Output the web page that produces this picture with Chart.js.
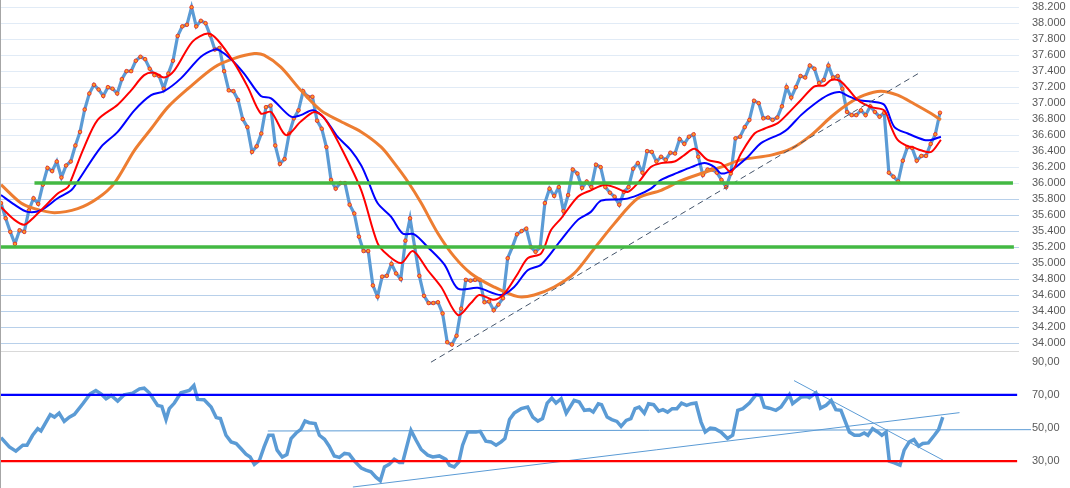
<!DOCTYPE html>
<html>
<head>
<meta charset="utf-8">
<script src="https://cdn.jsdelivr.net/npm/chart.js@4.4.1/dist/chart.umd.min.js"></script>
<style>
  html, body { margin: 0; padding: 0; background: #fff; }
  #wrap { position: relative; width: 1070px; height: 488px; overflow: hidden; }
  #edge { position: absolute; left: 0; top: 0; width: 1px; height: 488px; background: #a6a6a6; }
  #price { position: absolute; left: 0; top: 0; }
  #rsi { position: absolute; left: 0; top: 351px; }
</style>
</head>
<body>
<div id="wrap">
  <canvas id="rsi" width="1070" height="137"></canvas>
  <canvas id="price" width="1070" height="372"></canvas>
  <div id="edge"></div>
</div>
<script>
// closing prices, one per session (day index = position in the array)
const priceValues = [
  35.75, 35.56, 35.39, 35.24, 35.41, 35.39, 35.66, 35.81, 35.74, 35.98,
  36.19, 36.15, 36.27, 36.07, 36.22, 36.27, 36.47, 36.64, 36.92, 37.12,
  37.23, 37.17, 37.09, 37.20, 37.18, 37.12, 37.30, 37.40, 37.40, 37.53,
  37.58, 37.55, 37.43, 37.35, 37.34, 37.18, 37.37, 37.53, 37.84, 37.96,
  37.98, 38.20, 37.96, 38.03, 38.00, 37.85, 37.67, 37.69, 37.40, 37.16,
  37.15, 37.04, 36.80, 36.70, 36.39, 36.46, 36.62, 36.95, 36.97, 36.47,
  36.24, 36.30, 36.62, 36.81, 36.91, 37.15, 37.08, 37.08, 36.78, 36.68,
  36.45, 36.04, 35.93, 36.00, 36.00, 35.73, 35.62, 35.33, 35.15, 35.15,
  34.72, 34.58, 34.83, 34.84, 34.99, 34.87, 34.80, 35.28, 35.56, 35.20,
  34.84, 34.59, 34.50, 34.50, 34.51, 34.37, 34.01, 33.98, 34.09, 34.43,
  34.79, 34.78, 34.79, 34.79, 34.51, 34.52, 34.41, 34.48, 34.56, 35.06,
  35.20, 35.36, 35.40, 35.43, 35.20, 35.14, 35.20, 35.75, 35.93, 35.84,
  35.95, 35.65, 35.85, 36.17, 36.12, 35.94, 36.02, 35.95, 36.23, 36.20,
  35.95, 35.88, 35.83, 35.73, 35.89, 35.95, 36.18, 36.25, 36.13, 36.40,
  36.39, 36.27, 36.33, 36.29, 36.38, 36.37, 36.55, 36.49, 36.58, 36.61,
  36.33, 36.10, 36.17, 36.17, 36.13, 36.04, 35.95, 36.12, 36.56, 36.58,
  36.70, 36.79, 37.03, 37.00, 36.81, 36.82, 36.79, 36.82, 36.96, 37.20,
  37.07, 37.20, 37.34, 37.32, 37.47, 37.43, 37.25, 37.29, 37.47, 37.32,
  37.34, 37.18, 36.89, 36.85, 36.85, 36.91, 36.85, 36.96, 36.89, 36.83,
  36.88, 36.13, 36.08, 36.02, 36.28, 36.45, 36.44, 36.28, 36.34, 36.34,
  36.49, 36.61, 36.88
];

// moving averages (day index / value)
const fastIdx = [0, 2.9, 5.0, 7.2, 9.3, 12.2, 14.4, 15.1, 17.9, 20.8, 25.1, 28.0, 30.8, 33.0, 35.1, 37.3, 41.2, 44.5, 46.6, 50.2, 53.1, 55.9, 58.1, 61.3, 64.5, 67.4, 69.6, 73.1, 77.5, 81.0, 83.2, 86.1, 88.6, 91.8, 94.7, 98.3, 101.1, 102.9, 106.1, 108.3, 111.2, 113.3, 116.2, 118.3, 120.5, 124.1, 126.9, 129.8, 131.9, 134.8, 137.0, 139.8, 142.0, 144.9, 147.0, 149.2, 152.0, 154.9, 157.1, 159.2, 162.1, 164.2, 167.1, 169.3, 172.1, 175.0, 177.1, 178.6, 180.4, 182.2, 184.3, 187.2, 190.0, 191.5, 192.9, 195.1, 196.1, 197.9, 200.1, 202.2];
const fastVals = [35.70, 35.54, 35.48, 35.58, 35.70, 35.87, 35.95, 36.04, 36.45, 36.79, 36.98, 37.16, 37.35, 37.38, 37.32, 37.41, 37.77, 37.87, 37.79, 37.50, 37.20, 36.87, 36.89, 36.60, 36.77, 36.89, 36.81, 36.45, 35.91, 35.25, 35.10, 35.00, 35.15, 34.91, 34.70, 34.35, 34.50, 34.60, 34.54, 34.62, 34.87, 35.06, 35.12, 35.41, 35.56, 35.83, 35.91, 35.98, 35.95, 35.89, 36.00, 36.20, 36.25, 36.27, 36.35, 36.43, 36.29, 36.25, 36.14, 36.37, 36.62, 36.68, 36.75, 36.87, 37.04, 37.21, 37.22, 37.29, 37.28, 37.18, 37.04, 36.95, 36.91, 36.70, 36.54, 36.46, 36.45, 36.41, 36.39, 36.54];

const midIdx = [0, 2.9, 5.7, 8.6, 12.2, 15.1, 16.5, 21.5, 25.1, 28.7, 32.3, 35.1, 38.7, 43.0, 45.9, 47.0, 49.5, 52.3, 55.9, 58.1, 62.4, 64.5, 67.1, 69.6, 72.4, 75.3, 77.5, 78.9, 81.0, 83.9, 86.4, 88.9, 91.8, 95.4, 98.3, 102.6, 107.6, 110.4, 113.3, 116.2, 120.5, 124.1, 126.9, 129.1, 134.1, 137.0, 139.8, 142.0, 145.6, 148.5, 151.3, 153.5, 154.9, 157.1, 160.7, 163.5, 167.8, 169.3, 172.1, 175.0, 177.9, 180.4, 182.2, 184.3, 187.2, 190.0, 192.2, 195.1, 198.6, 200.1, 202.2];
const midVals = [35.85, 35.73, 35.64, 35.66, 35.81, 35.91, 36.02, 36.45, 36.64, 36.91, 37.10, 37.15, 37.31, 37.58, 37.67, 37.66, 37.55, 37.37, 37.09, 37.06, 36.83, 36.85, 36.91, 36.81, 36.58, 36.41, 36.22, 36.04, 35.75, 35.58, 35.37, 35.36, 35.20, 34.98, 34.68, 34.69, 34.60, 34.70, 34.91, 34.98, 35.29, 35.54, 35.64, 35.78, 35.80, 35.85, 35.93, 36.04, 36.13, 36.20, 36.25, 36.20, 36.12, 36.16, 36.33, 36.50, 36.62, 36.68, 36.85, 36.99, 37.10, 37.14, 37.09, 37.04, 37.02, 36.98, 36.70, 36.62, 36.54, 36.54, 36.58];

const slowIdx = [0, 4.3, 7.2, 11.5, 16.5, 20.8, 24.4, 28.7, 32.3, 35.9, 40.2, 45.9, 50.2, 54.5, 56.6, 60.2, 64.5, 68.8, 73.1, 77.5, 81.8, 84.6, 87.5, 90.4, 94.0, 97.5, 101.1, 106.1, 111.2, 114.7, 119.0, 123.3, 127.6, 131.9, 137.0, 142.0, 146.3, 150.6, 154.9, 159.2, 165.7, 170.0, 174.3, 178.6, 182.2, 185.7, 189.3, 192.9, 196.5, 200.1, 202.2];
const slowVals = [35.98, 35.75, 35.68, 35.63, 35.68, 35.81, 36.00, 36.41, 36.68, 36.95, 37.18, 37.45, 37.56, 37.62, 37.60, 37.45, 37.16, 36.91, 36.77, 36.64, 36.45, 36.25, 36.02, 35.75, 35.37, 35.08, 34.87, 34.70, 34.58, 34.60, 34.70, 34.87, 35.18, 35.49, 35.81, 35.91, 36.03, 36.12, 36.20, 36.29, 36.35, 36.43, 36.60, 36.83, 36.99, 37.10, 37.15, 37.10, 36.99, 36.87, 36.79];

// oscillator (lower panel)
const rsiIdx = [0, 1.8, 3.2, 4.7, 5.6, 6.8, 7.9, 8.6, 10.6, 11.5, 12.5, 13.6, 14.7, 15.8, 17.6, 19.2, 20.4, 21.5, 22.6, 23.7, 25.1, 26.5, 28.3, 29.8, 30.8, 31.9, 33.7, 34.6, 35.5, 36.2, 37.3, 38.7, 40.5, 41.5, 42.3, 43.7, 45.2, 46.3, 47.2, 48.4, 49.5, 50.6, 51.6, 52.7, 53.6, 54.5, 55.6, 56.6, 57.6, 58.5, 59.4, 60.5, 61.5, 62.4, 63.5, 64.5, 65.4, 66.3, 67.6, 68.5, 69.6, 70.6, 71.7, 72.8, 73.9, 74.9, 76.0, 77.5, 78.5, 79.6, 80.7, 81.6, 82.5, 83.5, 84.6, 85.7, 86.4, 88.2, 89.3, 90.4, 91.8, 92.9, 94.3, 95.7, 96.5, 97.5, 98.5, 99.3, 100.4, 102.2, 103.1, 104.3, 105.4, 106.5, 107.6, 108.4, 109.4, 110.4, 111.9, 113.3, 114.4, 115.5, 116.5, 117.5, 118.5, 119.4, 120.5, 121.6, 123.3, 124.4, 125.5, 126.6, 127.4, 128.5, 129.2, 130.4, 131.4, 132.5, 133.4, 134.5, 135.5, 136.4, 137.3, 138.4, 139.3, 140.4, 141.5, 142.4, 143.4, 144.4, 145.4, 146.4, 147.5, 148.5, 149.5, 150.6, 151.5, 152.6, 153.6, 154.9, 156.3, 157.4, 158.5, 159.6, 161.0, 162.4, 163.4, 164.2, 165.3, 166.7, 167.8, 169.6, 170.3, 172.1, 173.4, 173.9, 175.3, 176.3, 177.5, 178.6, 179.6, 180.7, 182.5, 183.6, 184.7, 185.7, 186.5, 187.5, 188.6, 189.5, 190.4, 191.1, 192.2, 193.4, 194.3, 195.4, 196.4, 197.4, 198.3, 199.5, 200.8, 201.7, 202.6];
const rsiVals = [44.2, 38.6, 36.0, 39.6, 39.6, 45.6, 49.6, 48.2, 58.1, 56.6, 59.0, 54.0, 56.6, 58.3, 64.7, 70.7, 72.7, 70.7, 67.7, 69.7, 66.3, 70.1, 71.1, 73.7, 74.1, 71.3, 63.7, 63.1, 55.1, 61.7, 65.1, 71.3, 72.7, 75.7, 67.3, 67.1, 62.7, 56.3, 55.7, 45.6, 41.6, 40.6, 37.6, 34.2, 32.5, 28.0, 30.5, 38.6, 45.6, 45.6, 36.6, 32.5, 34.0, 43.6, 47.0, 49.2, 54.2, 53.2, 52.7, 45.6, 43.2, 39.0, 33.1, 32.2, 34.6, 34.2, 30.1, 25.8, 24.5, 23.5, 20.1, 18.1, 26.5, 28.0, 31.1, 29.2, 29.2, 48.6, 42.6, 37.0, 33.6, 32.5, 33.1, 31.0, 27.5, 26.5, 29.5, 39.6, 47.6, 47.6, 48.0, 42.0, 41.6, 39.6, 41.6, 43.6, 55.1, 59.0, 61.7, 62.7, 56.6, 54.2, 55.7, 65.1, 68.1, 65.1, 67.7, 59.0, 66.7, 65.7, 60.7, 61.1, 59.6, 64.7, 64.1, 56.6, 55.1, 54.0, 51.0, 54.6, 55.7, 61.7, 62.7, 59.0, 64.7, 64.1, 60.2, 61.1, 59.6, 61.7, 61.7, 65.1, 63.7, 64.7, 65.1, 53.6, 47.6, 50.0, 49.6, 47.5, 43.6, 45.6, 60.7, 61.7, 65.1, 70.1, 69.7, 62.7, 62.0, 60.7, 62.7, 70.1, 64.7, 68.7, 69.1, 68.3, 71.3, 62.0, 63.7, 66.7, 61.1, 60.7, 47.6, 45.6, 45.6, 47.0, 45.6, 49.6, 47.6, 45.6, 47.6, 29.9, 28.9, 27.5, 36.6, 41.6, 43.0, 39.0, 40.6, 41.0, 45.6, 49.0, 56.6];

// horizontal support levels and drawn trend lines
const supportLevels = [36.0, 35.2];
const supportStart = [7.2, 0];
const supportEnd = [217.7, 217.9];
const priceTrendIdx = [92.5, 197.9];
const priceTrendVals = [33.76, 37.39];

const rsiBands = [70, 30];
const rsiBandEnd = 218.6;
const rsiTrends = [
  { idx: [57.4, 221.6], vals: [48.2, 49.0] },
  { idx: [75.7, 206.2], vals: [14.3, 59.3] },
  { idx: [170.6, 202.7], vals: [78.7, 30.5] }
];

const priceTicks = [33.9, 34.0, 34.2, 34.4, 34.6, 34.8, 35.0, 35.2, 35.4, 35.6, 35.8, 36.0, 36.2, 36.4, 36.6, 36.8, 37.0, 37.2, 37.4, 37.6, 37.8, 38.0, 38.2];
const priceTickLabels = ['', '34.000', '34.200', '34.400', '34.600', '34.800', '35.000', '35.200', '35.400', '35.600', '35.800', '36.000', '36.200', '36.400', '36.600', '36.800', '37.000', '37.200', '37.400', '37.600', '37.800', '38.000', '38.200'];
const rsiTicks = [30, 50, 70, 90];
const rsiTickLabels = ['30,00', '50,00', '70,00', '90,00'];

const DAYS = 219;
const pts = (xs, ys) => xs.map((x, i) => ({ x: x, y: ys[i] }));
const font = { family: "'Liberation Sans', Arial, sans-serif", size: 11 };

function fixAxis(scale) {
  scale.width = 51;
  scale.paddingTop = 0;
  scale.paddingBottom = 0;
}

const priceSets = [];
supportLevels.forEach((lvl, i) => {
  priceSets.push({
    data: pts([supportStart[i], supportEnd[i]], [lvl, lvl]),
    borderColor: '#43b943', borderWidth: 3.5, pointRadius: 0, order: 0
  });
});
priceSets.push({
  data: pts(priceTrendIdx, priceTrendVals),
  borderColor: '#44546a', borderWidth: 1, borderDash: [6, 4], pointRadius: 0, order: 1, clip: false
});
priceSets.push({ data: pts(fastIdx, fastVals), borderColor: '#ff0000', borderWidth: 2, pointRadius: 0, tension: 0.3, order: 2 });
priceSets.push({ data: pts(midIdx, midVals), borderColor: '#0000ff', borderWidth: 2, pointRadius: 0, tension: 0.3, order: 3 });
priceSets.push({ data: pts(slowIdx, slowVals), borderColor: '#ed7d31', borderWidth: 3, pointRadius: 0, tension: 0.3, order: 4 });
priceSets.push({
  data: priceValues.map((v, i) => ({ x: i, y: v })),
  borderColor: '#5b9bd5', borderWidth: 3.2, tension: 0,
  pointRadius: 1.8, pointBorderWidth: 0.8,
  pointBackgroundColor: '#ff9a2a', pointBorderColor: '#e8201a', order: 5
});

new Chart(document.getElementById('price'), {
  type: 'line',
  data: { datasets: priceSets },
  options: {
    responsive: false, animation: false,
    layout: { autoPadding: false, padding: { left: 1, right: 0, top: 0, bottom: 21 } },
    plugins: { legend: { display: false }, tooltip: { enabled: false } },
    scales: {
      x: { type: 'linear', min: 0, max: DAYS, display: false },
      y: {
        position: 'right', min: 33.9, max: 38.29,
        afterBuildTicks: (s) => { s.ticks = priceTicks.map(v => ({ value: v })); },
        afterFit: fixAxis,
        border: { display: false },
        grid: {
          drawTicks: false,
          color: (c) => c.tick.value < 34 ? '#d9d9d9' : (c.tick.value <= 35.81 ? '#b8d0ea' : '#e1ebf6'),
          lineWidth: 1
        },
        ticks: {
          autoSkip: false, padding: 13, color: '#595959', font: font,
          callback: (v) => priceTickLabels[priceTicks.indexOf(v)]
        }
      }
    }
  }
});

const rsiSets = [];
rsiBands.forEach((lvl, i) => {
  rsiSets.push({
    data: pts([0, rsiBandEnd], [lvl, lvl]),
    borderColor: i === 0 ? '#0000ff' : '#ff0000', borderWidth: 2.2, pointRadius: 0, order: 0
  });
});
rsiTrends.forEach((t) => {
  rsiSets.push({ data: pts(t.idx, t.vals), borderColor: '#5b9bd5', borderWidth: 1, pointRadius: 0, order: 1, clip: false });
});
rsiSets.push({ data: pts(rsiIdx, rsiVals), borderColor: '#5b9bd5', borderWidth: 3.5, pointRadius: 0, tension: 0, order: 2 });

new Chart(document.getElementById('rsi'), {
  type: 'line',
  data: { datasets: rsiSets },
  options: {
    responsive: false, animation: false,
    layout: { autoPadding: false, padding: { left: 1, right: 0, top: 0, bottom: 0 } },
    plugins: { legend: { display: false }, tooltip: { enabled: false } },
    scales: {
      x: { type: 'linear', min: 0, max: DAYS, display: false },
      y: {
        position: 'right', min: 13.7, max: 96.6,
        afterBuildTicks: (s) => { s.ticks = rsiTicks.map(v => ({ value: v })); },
        afterFit: fixAxis,
        border: { display: false },
        grid: { display: false, drawTicks: false },
        ticks: {
          autoSkip: false, padding: 13, color: '#595959', font: font,
          callback: (v) => rsiTickLabels[rsiTicks.indexOf(v)]
        }
      }
    }
  }
});
</script>
</body>
</html>
